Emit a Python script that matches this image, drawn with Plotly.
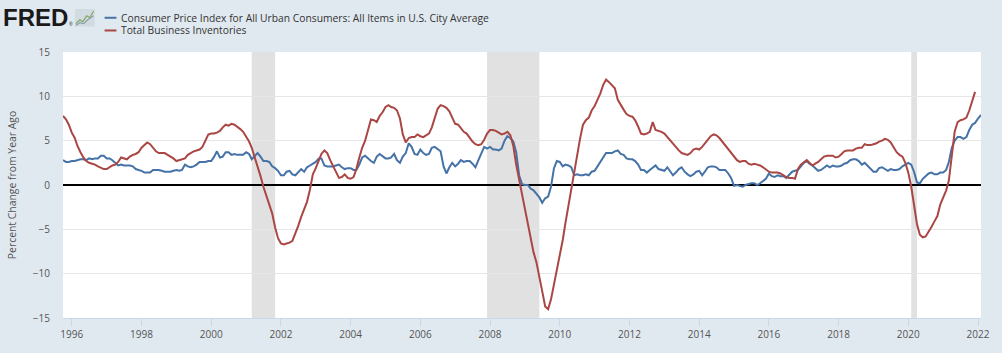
import pandas as pd
import plotly.graph_objects as go

# ---------------- data (percent change from year ago, monthly, starting Oct 1995) -------------
start_month = "1995-10-01"

cpi_yoy = [
    2.8, 2.6, 2.6,
    2.7, 2.7, 2.8, 2.9, 2.9, 2.8, 3.0, 2.9, 3.0, 3.0, 3.3, 3.3,      # 1996
    3.0, 3.0, 2.8, 2.5, 2.2, 2.3, 2.2, 2.2, 2.2, 2.1, 1.8, 1.7,      # 1997
    1.6, 1.4, 1.4, 1.4, 1.7, 1.7, 1.7, 1.6, 1.5, 1.5, 1.5, 1.6,      # 1998
    1.7, 1.6, 1.7, 2.3, 2.1, 2.0, 2.1, 2.3, 2.6, 2.6, 2.6, 2.7,      # 1999
    2.7, 3.2, 3.8, 3.1, 3.2, 3.7, 3.7, 3.4, 3.5, 3.4, 3.4, 3.4,      # 2000
    3.7, 3.5, 2.9, 3.3, 3.6, 3.2, 2.7, 2.7, 2.6, 2.1, 1.9, 1.6,      # 2001
    1.1, 1.1, 1.5, 1.6, 1.2, 1.1, 1.5, 1.8, 1.5, 2.0, 2.2, 2.4,      # 2002
    2.6, 3.0, 3.0, 2.2, 2.1, 2.1, 2.1, 2.2, 2.3, 2.0, 1.8, 1.9,      # 2003
    1.9, 1.7, 1.7, 2.3, 3.1, 3.3, 3.0, 2.7, 2.5, 3.2, 3.5, 3.3,      # 2004
    3.0, 3.0, 3.1, 3.5, 2.8, 2.5, 3.2, 3.6, 4.7, 4.3, 3.5, 3.4,      # 2005
    4.0, 3.6, 3.4, 3.5, 4.2, 4.3, 4.1, 3.8, 2.1, 1.3, 2.0, 2.5,      # 2006
    2.1, 2.4, 2.8, 2.6, 2.7, 2.7, 2.4, 2.0, 2.8, 3.5, 4.3, 4.1,      # 2007
    4.3, 4.0, 4.0, 3.9, 4.1, 5.0, 5.5, 5.3, 4.9, 3.7, 1.1, 0.1,      # 2008
    0.0, 0.0, -0.4, -0.6, -1.0, -1.4, -2.0, -1.5, -1.3, -0.2, 1.9, 2.7,  # 2009
    2.6, 2.1, 2.3, 2.2, 2.0, 1.1, 1.2, 1.1, 1.1, 1.2, 1.1, 1.5,      # 2010
    1.6, 2.1, 2.7, 3.2, 3.6, 3.6, 3.6, 3.8, 3.9, 3.5, 3.4, 3.0,      # 2011
    2.9, 2.9, 2.7, 2.3, 1.7, 1.7, 1.4, 1.7, 2.0, 2.2, 1.8, 1.7,      # 2012
    1.6, 2.0, 1.5, 1.1, 1.4, 1.8, 2.0, 1.5, 1.2, 1.0, 1.2, 1.5,      # 2013
    1.6, 1.1, 1.5, 2.0, 2.1, 2.1, 2.0, 1.7, 1.7, 1.7, 1.3, 0.8,      # 2014
    -0.1, 0.0, -0.1, -0.2, 0.0, 0.1, 0.2, 0.2, 0.0, 0.2, 0.5, 0.7,   # 2015
    1.3, 1.0, 0.9, 1.1, 1.0, 1.0, 0.8, 1.1, 1.5, 1.6, 1.7, 2.1,      # 2016
    2.5, 2.7, 2.4, 2.2, 1.9, 1.6, 1.7, 1.9, 2.2, 2.0, 2.2, 2.1,      # 2017
    2.1, 2.2, 2.4, 2.5, 2.8, 2.9, 2.9, 2.7, 2.3, 2.5, 2.2, 1.9,      # 2018
    1.5, 1.5, 1.9, 2.0, 1.8, 1.6, 1.8, 1.7, 1.7, 1.8, 2.1, 2.3,      # 2019
    2.5, 2.3, 1.5, 0.3, 0.2, 0.7, 1.0, 1.3, 1.4, 1.2, 1.2, 1.4,      # 2020
    1.4, 1.7, 2.6, 4.2, 5.0, 5.4, 5.4, 5.2, 5.4, 6.2, 6.8, 7.0,      # 2021
    7.5, 7.9,                                                        # 2022
]

inventories_yoy = [
    7.8, 7.4, 6.8,
    5.9, 5.3, 4.4, 3.7, 3.1, 2.7, 2.5, 2.4, 2.3, 2.1, 1.9, 1.8,      # 1996
    1.8, 2.0, 2.2, 2.3, 2.6, 3.1, 3.0, 2.9, 3.2, 3.4, 3.5, 3.7,      # 1997
    4.2, 4.5, 4.8, 4.6, 4.2, 3.8, 3.6, 3.6, 3.6, 3.4, 3.2, 3.0,      # 1998
    2.7, 2.8, 2.9, 3.0, 3.4, 3.6, 3.8, 3.9, 4.0, 4.3, 5.0, 5.7,      # 1999
    5.8, 5.8, 5.9, 6.1, 6.5, 6.8, 6.7, 6.9, 6.8, 6.6, 6.3, 6.0,      # 2000
    5.5, 4.9, 4.2, 3.2, 2.1, 1.0, -0.2, -1.2, -2.1, -3.2, -4.8, -6.0,  # 2001
    -6.6, -6.7, -6.6, -6.5, -6.3, -5.5, -4.6, -3.6, -2.8, -1.9, -0.5, 1.2,  # 2002
    1.9, 2.8, 3.5, 3.9, 3.6, 2.8, 2.1, 1.5, 0.8, 0.9, 1.2, 0.8,      # 2003
    0.7, 0.9, 1.8, 3.1, 4.2, 5.0, 6.2, 7.4, 7.3, 7.1, 7.8, 8.2,      # 2004
    8.8, 9.0, 8.8, 8.7, 8.4, 7.5, 5.7, 4.8, 5.3, 5.4, 5.4, 5.7,      # 2005
    5.5, 5.4, 5.6, 5.8, 6.5, 7.6, 8.6, 9.0, 8.9, 8.7, 8.3, 7.6,      # 2006
    6.9, 6.8, 6.4, 6.0, 5.8, 5.3, 4.9, 4.6, 4.5, 4.6, 5.1, 5.8,      # 2007
    6.2, 6.2, 6.1, 5.9, 5.7, 5.8, 6.0, 5.6, 4.4, 2.3, 0.6, -1.2,     # 2008
    -2.9, -4.5, -5.9, -7.6, -8.7, -10.2, -12.0, -13.7, -14.0, -12.9, -11.2, -9.6,  # 2009
    -8.0, -6.2, -4.3, -2.3, -0.5, 1.5, 3.5, 5.2, 6.8, 7.3, 7.6, 8.4,  # 2010
    8.9, 9.6, 10.3, 11.3, 11.9, 11.6, 11.3, 10.9, 9.6, 9.0, 8.5, 8.0,  # 2011
    7.8, 7.7, 7.3, 6.6, 5.8, 5.7, 5.8, 6.0, 7.1, 6.2, 6.1, 6.0,      # 2012
    5.8, 5.4, 5.0, 4.7, 4.2, 3.9, 3.6, 3.5, 3.4, 3.6, 4.0, 4.1,      # 2013
    4.0, 4.3, 4.7, 5.1, 5.5, 5.7, 5.6, 5.3, 4.9, 4.5, 4.0, 3.6,      # 2014
    3.2, 2.8, 2.6, 2.7, 2.7, 2.4, 2.3, 2.4, 2.3, 2.2, 2.0, 1.8,      # 2015
    1.5, 1.4, 1.4, 1.4, 1.3, 1.1, 0.9, 0.8, 0.8, 0.7, 1.8, 2.3,      # 2016
    2.6, 2.8, 2.5, 2.2, 2.4, 2.6, 2.9, 3.2, 3.3, 3.3, 3.3, 3.1,      # 2017
    3.2, 3.5, 3.8, 3.9, 3.9, 3.9, 4.1, 4.2, 4.2, 4.6, 4.5, 4.5,      # 2018
    4.6, 4.7, 4.9, 5.0, 5.2, 5.1, 4.8, 4.3, 3.7, 3.4, 3.2, 2.5,      # 2019
    1.4, -0.2, -2.2, -4.4, -5.6, -5.9, -5.8, -5.3, -4.7, -4.1, -3.5, -2.2,  # 2020
    -1.4, -0.6, 0.5, 3.5, 6.0, 7.1, 7.3, 7.4, 7.6, 8.4, 9.6, 10.5,   # 2021
]

series_names = [
    "Consumer Price Index for All Urban Consumers: All Items in U.S. City Average",
    "Total Business Inventories",
]
series_colors = ["#4572A7", "#AA4643"]

recession_starts = ["2001-03-01", "2007-12-01", "2020-02-01"]
recession_ends = ["2001-11-01", "2009-06-01", "2020-04-01"]

x_tick_years = list(range(1996, 2023, 2))
y_ticks = [-15, -10, -5, 0, 5, 10, 15]
y_title = "Percent Change from Year Ago"

# ---------------- figure ----------------
W, H = 1002, 353
ML, MR, MT, MB = 60, 15, 52, 29
PW, PH = W - ML - MR, H - MT - MB


def px(xp):
    return (xp - ML) / PW


def py(yp):
    return (H - MB - yp) / PH


dates_cpi = pd.date_range(start_month, periods=len(cpi_yoy), freq="MS")
dates_inv = pd.date_range(start_month, periods=len(inventories_yoy), freq="MS")

fig = go.Figure()
fig.add_trace(go.Scatter(x=dates_cpi, y=cpi_yoy, mode="lines", name=series_names[0],
                         line=dict(color=series_colors[0], width=2), showlegend=False))
fig.add_trace(go.Scatter(x=dates_inv, y=inventories_yoy, mode="lines", name=series_names[1],
                         line=dict(color=series_colors[1], width=2), showlegend=False))

for s, e in zip(recession_starts, recession_ends):
    fig.add_vrect(x0=s, x1=e, fillcolor="#e1e1e1", opacity=1, line_width=0, layer="below")

font_family = "Open Sans, Noto Sans, sans-serif"

# manual legend (compact, like FRED)
legend_rows_y = [17, 30]
for i, (nm, col) in enumerate(zip(series_names, series_colors)):
    yy = py(legend_rows_y[i])
    fig.add_shape(type="line", xref="paper", yref="paper", x0=px(102), x1=px(114), y0=yy, y1=yy,
                  line=dict(color=col, width=2))
    fig.add_annotation(xref="paper", yref="paper", x=px(117), y=yy, text=nm, showarrow=False,
                       xanchor="left", yanchor="middle",
                       font=dict(family=font_family, size=10.3, color="#333333"))

# FRED logo text
fig.add_annotation(xref="paper", yref="paper", x=px(-3), y=py(16.5), text="<b>FRED</b>", showarrow=False,
                   xanchor="left", yanchor="middle",
                   font=dict(family="Liberation Sans, Arial, sans-serif", size=24, color="#1a1a1a"))
fig.add_annotation(xref="paper", yref="paper", x=px(64), y=py(23), text="®", showarrow=False,
                   xanchor="left", yanchor="middle",
                   font=dict(family="Liberation Sans, Arial, sans-serif", size=5, color="#1a1a1a"))
# small chart icon
fig.add_shape(type="rect", xref="paper", yref="paper", x0=px(72), x1=px(92), y0=py(26), y1=py(8),
              fillcolor="#d3dbe2", line_width=0)
icon_a = [(73, 23), (77, 19), (80, 21), (84, 15), (87, 17), (91, 10)]
icon_b = [(73, 25), (77, 22), (81, 23), (85, 19), (91, 15)]
for pts, col in [(icon_a, "#7fa866"), (icon_b, "#8e9eab")]:
    path = "M " + " L ".join(f"{px(a)},{py(b)}" for a, b in pts)
    fig.add_shape(type="path", xref="paper", yref="paper", path=path, line=dict(color=col, width=1.2))

fig.update_layout(
    width=W, height=H,
    margin=dict(l=ML, r=MR, t=MT, b=MB),
    paper_bgcolor="#e1e9f0",
    plot_bgcolor="#ffffff",
    font=dict(family=font_family, size=10, color="#555555"),
    showlegend=False,
    hovermode="x unified",
)

fig.update_xaxes(
    type="date",
    range=[start_month, "2022-02-01"],
    tickvals=[f"{y}-01-01" for y in x_tick_years],
    ticktext=[str(y) for y in x_tick_years],
    showgrid=False,
    ticks="outside", ticklen=7, tickcolor="#ccd6eb", tickwidth=1,
    showline=True, linecolor="#ccd6eb", linewidth=1,
    tickfont=dict(family=font_family, size=10, color="#555555"),
    zeroline=False,
)
fig.update_yaxes(
    range=[-15, 15],
    tickvals=y_ticks,
    showgrid=True, gridcolor="#e6e6e6", gridwidth=1,
    zeroline=True, zerolinecolor="#000000", zerolinewidth=2,
    ticks="", showline=False,
    tickfont=dict(family=font_family, size=10, color="#555555"),
    ticklabelstandoff=12,
    title=dict(text=y_title, font=dict(family=font_family, size=10.4, color="#555555"), standoff=14),
)

fig.write_html("out.html")
